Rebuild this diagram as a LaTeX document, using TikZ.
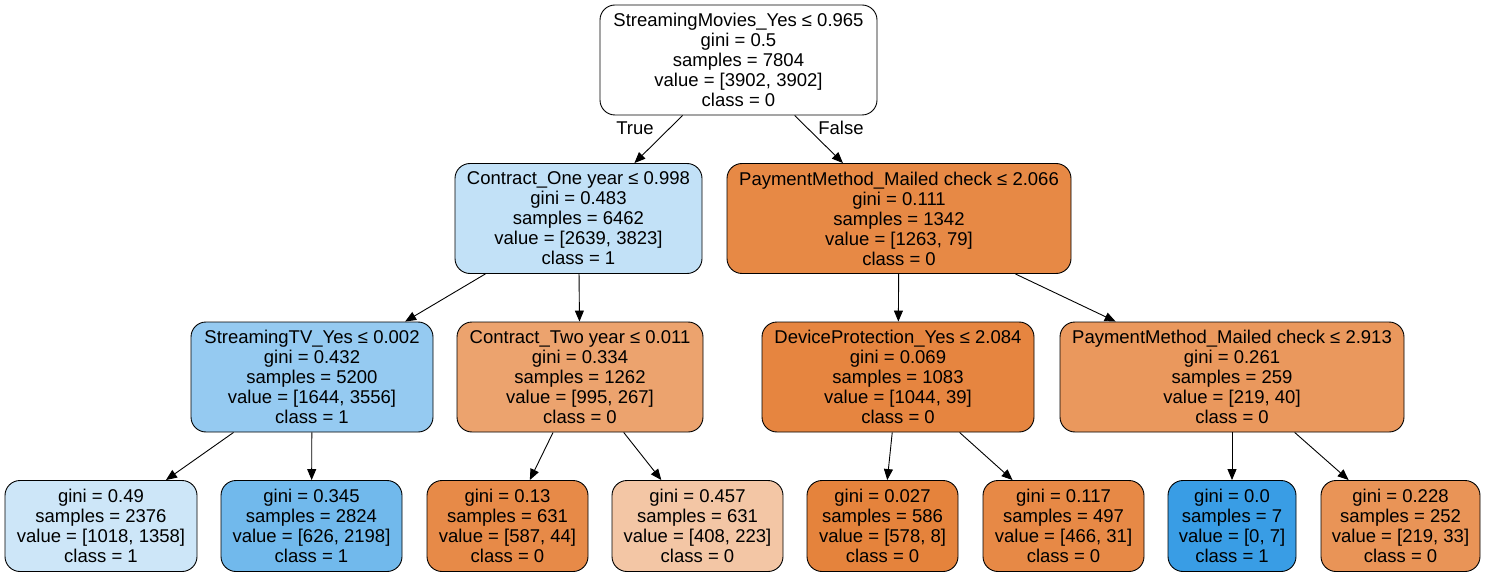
\documentclass[tikz,border=0pt]{standalone}
\usepackage{fontspec}
\setmainfont{Liberation Sans}
\usetikzlibrary{arrows.meta}
\definecolor{RootColor}{RGB}{255,255,255}
\definecolor{OneYearColor}{RGB}{194,225,247}
\definecolor{MailedColor}{RGB}{231,137,69}
\definecolor{TVColor}{RGB}{149,202,241}
\definecolor{TwoYearColor}{RGB}{236,163,110}
\definecolor{DeviceColor}{RGB}{230,133,64}
\definecolor{MailedTwoColor}{RGB}{234,152,93}
\definecolor{LeafAColor}{RGB}{205,230,248}
\definecolor{LeafBColor}{RGB}{113,185,236}
\definecolor{LeafCColor}{RGB}{231,138,72}
\definecolor{LeafDColor}{RGB}{243,198,165}
\definecolor{LeafEColor}{RGB}{229,131,60}
\definecolor{LeafFColor}{RGB}{231,137,70}
\definecolor{LeafGColor}{RGB}{57,157,229}
\definecolor{LeafHColor}{RGB}{233,148,87}

\begin{document}
\begin{tikzpicture}[
    x=1pt, y=-1pt,
    every node/.style={font=\fontsize{18.5pt}{20pt}\selectfont},
    >={Triangle[length=11pt, width=9pt]},
    split/.style={rectangle, draw, line width=0.9pt, rounded corners=15pt, minimum height=110pt, inner xsep=2pt, align=center},
    leaf/.style={split, minimum height=91pt},
    edge/.style={->, line width=0.9pt},
]
\useasboundingbox (0,0) rectangle (1487,577);

% Root
\node[split, fill=RootColor, minimum width=277pt] (root) at (738.5, 60) {StreamingMovies\_Yes ≤ 0.965\\gini = 0.5\\samples = 7804\\value = [3902, 3902]\\class = 0};

% Depth 1
\node[split, fill=OneYearColor, minimum width=247pt] (oneyear) at (578.5, 218.5) {Contract\_One year ≤ 0.998\\gini = 0.483\\samples = 6462\\value = [2639, 3823]\\class = 1};
\node[split, fill=MailedColor, minimum width=344pt] (mailed) at (899, 218.5) {PaymentMethod\_Mailed check ≤ 2.066\\gini = 0.111\\samples = 1342\\value = [1263, 79]\\class = 0};

\draw[edge] (root) -- (oneyear);
\draw[edge] (root) -- (mailed);
\node (truelbl) at (635, 128) {True};
\node (falselbl) at (841, 128) {False};

% Depth 2
\node[split, fill=TVColor, minimum width=242pt] (tv) at (312, 377) {StreamingTV\_Yes ≤ 0.002\\gini = 0.432\\samples = 5200\\value = [1644, 3556]\\class = 1};
\node[split, fill=TwoYearColor, minimum width=246pt] (twoyear) at (580, 377) {Contract\_Two year ≤ 0.011\\gini = 0.334\\samples = 1262\\value = [995, 267]\\class = 0};
\node[split, fill=DeviceColor, minimum width=272pt] (device) at (898, 377) {DeviceProtection\_Yes ≤ 2.084\\gini = 0.069\\samples = 1083\\value = [1044, 39]\\class = 0};
\node[split, fill=MailedTwoColor, minimum width=344pt] (mailedtwo) at (1232, 377) {PaymentMethod\_Mailed check ≤ 2.913\\gini = 0.261\\samples = 259\\value = [219, 40]\\class = 0};

\draw[edge] (oneyear) -- (tv);
\draw[edge] (oneyear) -- (twoyear);
\draw[edge] (mailed) -- (device);
\draw[edge] (mailed) -- (mailedtwo);

% Leaves
\node[leaf, fill=LeafAColor, minimum width=192pt] (leafa) at (101, 526) {gini = 0.49\\samples = 2376\\value = [1018, 1358]\\class = 1};
\node[leaf, fill=LeafBColor, minimum width=181pt] (leafb) at (311.5, 526) {gini = 0.345\\samples = 2824\\value = [626, 2198]\\class = 1};
\node[leaf, fill=LeafCColor, minimum width=161pt] (leafc) at (507.5, 526) {gini = 0.13\\samples = 631\\value = [587, 44]\\class = 0};
\node[leaf, fill=LeafDColor, minimum width=171pt] (leafd) at (697.5, 526) {gini = 0.457\\samples = 631\\value = [408, 223]\\class = 0};
\node[leaf, fill=LeafEColor, minimum width=151pt] (leafe) at (882.5, 526) {gini = 0.027\\samples = 586\\value = [578, 8]\\class = 0};
\node[leaf, fill=LeafFColor, minimum width=161pt] (leaff) at (1063.5, 526) {gini = 0.117\\samples = 497\\value = [466, 31]\\class = 0};
\node[leaf, fill=LeafGColor, minimum width=128pt] (leafg) at (1232, 526) {gini = 0.0\\samples = 7\\value = [0, 7]\\class = 1};
\node[leaf, fill=LeafHColor, minimum width=159pt] (leafh) at (1400.5, 526) {gini = 0.228\\samples = 252\\value = [219, 33]\\class = 0};

\draw[edge] (tv) -- (leafa);
\draw[edge] (tv) -- (leafb);
\draw[edge] (twoyear) -- (leafc);
\draw[edge] (twoyear) -- (leafd);
\draw[edge] (device) -- (leafe);
\draw[edge] (device) -- (leaff);
\draw[edge] (mailedtwo) -- (leafg);
\draw[edge] (mailedtwo) -- (leafh);

\end{tikzpicture}
\end{document}
